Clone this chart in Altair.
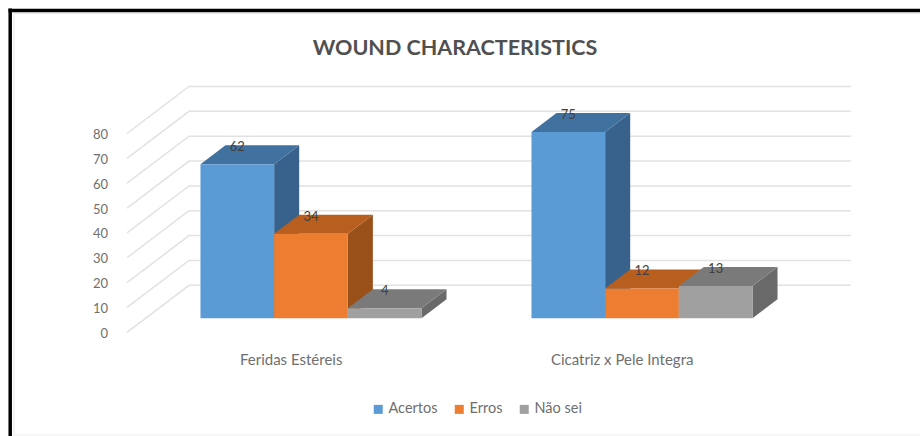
import altair as alt
import pandas as pd

# Chart values
categories = ["Feridas Estéreis", "Cicatriz x Pele Integra"]
series = ["Acertos", "Erros", "Não sei"]
acertos = [62, 75]
erros = [34, 12]
nao_sei = [4, 13]
value_ticks = [0, 10, 20, 30, 40, 50, 60, 70, 80]

# Face colours per series: front, top, side
front_colors = ["#5B9BD5", "#ED7D31", "#A0A0A0"]
top_colors = ["#41719F", "#B85F1F", "#7A7A7A"]
side_colors = ["#38628C", "#9A5019", "#696969"]

FONT = "Lato"
GRID = "#E2E2E2"

# Oblique projection: moving back through the floor shifts x and value
DEPTH_X = 62 / 331      # in category widths
DEPTH_Y = 47 / 2.485    # in value units
BAR_W = 73.67 / 331     # in category widths
SIDE_GAP = (1 - 3 * BAR_W) / 2
D0, D1 = 0.298, 0.702   # front and back of each bar within the floor depth

X_SCALE = alt.Scale(domain=[0, 2], range=[127, 789], nice=False, zero=False)
Y_SCALE = alt.Scale(domain=[0, 80], range=[332.3, 133.5], nice=False, zero=False)


def xq(field="x"):
    return alt.X(f"{field}:Q", scale=X_SCALE, axis=None)


def yq(field="y"):
    return alt.Y(f"{field}:Q", scale=Y_SCALE, stack=None, axis=None)


# Walls: one polyline per tick, along the side wall and across the back wall
grid_rows = []
for t in value_ticks:
    grid_rows.append({"tick": t, "x": 0, "y": t})
    grid_rows.append({"tick": t, "x": DEPTH_X, "y": t + DEPTH_Y})
    grid_rows.append({"tick": t, "x": 2 + DEPTH_X, "y": t + DEPTH_Y})
grid_df = pd.DataFrame(grid_rows)

grid = alt.Chart(grid_df).mark_line(color=GRID, strokeWidth=1.5).encode(
    x=xq(),
    y=yq(),
    detail="tick:N",
)

# Value scale labels, set just left of the side wall
tick_labels = (
    alt.Chart(pd.DataFrame({"tick": value_ticks}))
    .mark_text(font=FONT, fontSize=13, color="#6F6F6F", align="right", baseline="middle", dy=1.5)
    .encode(x=alt.value(108), y=yq("tick"), text="tick:Q")
)

layers = [grid, tick_labels]
label_rows = []
all_values = [acertos, erros, nao_sei]

for k, name in enumerate(series):
    side_rows, top_rows, front_rows = [], [], []
    for c, cat in enumerate(categories):
        v = all_values[k][c]
        xl = c + SIDE_GAP + k * BAR_W
        xr = xl + BAR_W
        for d in (D0, D1):
            side_rows.append({"cat": cat, "x": xr + d * DEPTH_X, "y": v + d * DEPTH_Y, "y2": d * DEPTH_Y})
            top_rows.append({"cat": cat, "x": xl + d * DEPTH_X, "x2": xr + d * DEPTH_X, "y": v + d * DEPTH_Y})
        front_rows.append({
            "cat": cat, "series": name,
            "x": xl + D0 * DEPTH_X, "x2": xr + D0 * DEPTH_X,
            "y": D0 * DEPTH_Y, "y2": v + D0 * DEPTH_Y,
        })
        label_rows.append({
            "x": (xl + xr) / 2 + D0 * DEPTH_X,
            "y": v + D1 * DEPTH_Y,
            "value": v,
        })

    layers.append(
        alt.Chart(pd.DataFrame(side_rows))
        .mark_area(color=side_colors[k], orient="vertical")
        .encode(x=xq(), y=yq(), y2="y2:Q", detail="cat:N")
    )
    layers.append(
        alt.Chart(pd.DataFrame(top_rows))
        .mark_area(color=top_colors[k], orient="horizontal")
        .encode(x=xq(), x2="x2:Q", y=yq(), detail="cat:N")
    )
    layers.append(
        alt.Chart(pd.DataFrame(front_rows))
        .mark_rect()
        .encode(
            x=xq(),
            x2="x2:Q",
            y=yq(),
            y2="y2:Q",
            color=alt.Color(
                "series:N",
                scale=alt.Scale(domain=series, range=front_colors),
                legend=alt.Legend(
                    title=None,
                    orient="none",
                    direction="horizontal",
                    legendX=371,
                    legendY=402,
                    symbolType="square",
                    symbolSize=81,
                    symbolStrokeWidth=0,
                    labelFont=FONT,
                    labelFontSize=14.5,
                    labelColor="#6F6F6F",
                    labelOffset=3,
                    columnPadding=14,
                ),
            ),
        )
    )

value_labels = (
    alt.Chart(pd.DataFrame(label_rows))
    .mark_text(font=FONT, fontSize=13, color="#404040", baseline="middle", dy=2)
    .encode(x=xq(), y=yq(), text="value:Q")
)

category_df = pd.DataFrame({"label": categories, "x": [0.5 - 0.004, 1.5 - 0.004]})
category_labels = (
    alt.Chart(category_df)
    .mark_text(font=FONT, fontSize=15, color="#6F6F6F", baseline="middle")
    .encode(x=xq(), y=alt.value(360), text="label:N")
)

# Outer frame of the figure
frame_top = alt.Chart(pd.DataFrame({"a": [0]})).mark_rule(color="#000000", strokeWidth=3.5).encode(
    x=alt.value(8.5), x2=alt.value(920), y=alt.value(10.5)
)
frame_left = alt.Chart(pd.DataFrame({"a": [0]})).mark_rule(color="#000000", strokeWidth=3.5).encode(
    x=alt.value(10.2), y=alt.value(8.5), y2=alt.value(436)
)
inner_top = alt.Chart(pd.DataFrame({"a": [0]})).mark_rule(color="#E8E8E8", strokeWidth=1).encode(
    x=alt.value(14), x2=alt.value(920), y=alt.value(13.5)
)
inner_left = alt.Chart(pd.DataFrame({"a": [0]})).mark_rule(color="#E8E8E8", strokeWidth=1).encode(
    x=alt.value(14), y=alt.value(13.5), y2=alt.value(436)
)
inner_bottom = alt.Chart(pd.DataFrame({"a": [0]})).mark_rule(color="#EDEDED", strokeWidth=1).encode(
    x=alt.value(14), x2=alt.value(920), y=alt.value(435)
)

chart = (
    alt.layer(
        *layers, value_labels, category_labels,
        inner_top, inner_left, inner_bottom, frame_top, frame_left,
    )
    .properties(
        width=920,
        height=436,
        padding=0,
        autosize=alt.AutoSizeParams(type="none"),
        background="#FFFFFF",
        title=alt.TitleParams(
            "WOUND CHARACTERISTICS",
            anchor="middle",
            frame="group",
            font=FONT,
            fontSize=21.5,
            fontWeight="bold",
            color="#505050",
            baseline="middle",
            dx=-5,
            dy=74,
        ),
    )
    .configure_view(stroke=None)
)

chart.save("out.html", embed_options={"renderer": "svg", "actions": False})
